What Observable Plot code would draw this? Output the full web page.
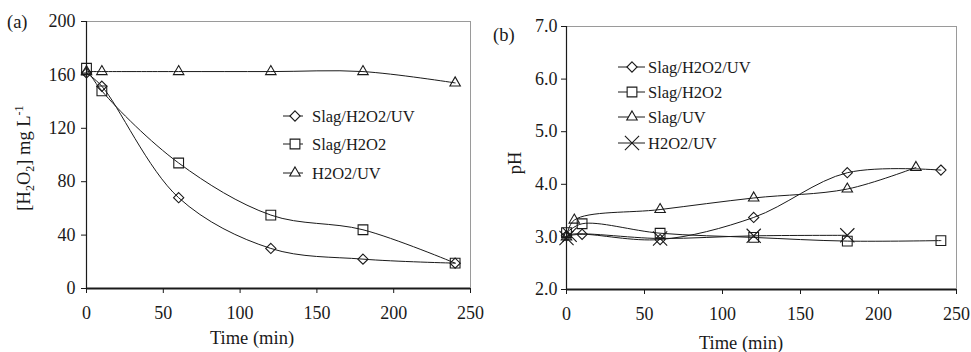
<!DOCTYPE html>
<html>
<head>
<meta charset="utf-8">
<script src="https://cdn.jsdelivr.net/npm/d3@7"></script>
<script src="https://cdn.jsdelivr.net/npm/@observablehq/plot@0.6"></script>
<style>
  html, body { margin: 0; padding: 0; background: #fff; }
  #wrap { display: flex; width: 971px; height: 352px; overflow: hidden; }
  #wrap svg { display: block; }
</style>
</head>
<body>
<div id="wrap"><div id="pa"></div><div id="pb"></div></div>
<script>
// ---------- data ----------
const xTicks = [0, 50, 100, 150, 200, 250];
const xDomain = [0, 250];

// Panel (a): H2O2 concentration (mg/L)
const aTimes = [0, 10, 60, 120, 180, 240];
const aSlagH2O2UV = [161.5, 151.5, 68, 30, 22, 19];
const aSlagH2O2 = [165, 148, 94, 55, 44, 19];
const aH2O2UV = [162.5, 162.5, 162.5, 162.5, 162.5, 154];
const aYTicks = [0, 40, 80, 120, 160, 200];
const aYDomain = [0, 200];
const aNames = ["Slag/H2O2/UV", "Slag/H2O2", "H2O2/UV"];

// Panel (b): pH
const bTimesSlagH2O2UV = [0, 10, 60, 120, 180, 240];
const bSlagH2O2UV = [3.02, 3.05, 2.95, 3.37, 4.22, 4.27];
const bTimesSlagH2O2 = [0, 10, 60, 120, 180, 240];
const bSlagH2O2 = [3.08, 3.25, 3.07, 2.99, 2.92, 2.93];
const bTimesSlagUV = [0, 5, 60, 120, 180, 224];
const bSlagUV = [3.0, 3.32, 3.52, 3.74, 3.91, 4.32];
const bTimesH2O2UV = [0, 2, 60, 120, 180];
const bH2O2UV = [2.98, 3.04, 2.97, 3.02, 3.03];
const bYTicks = [2, 3, 4, 5, 6, 7];
const bYDomain = [2, 7];
const bNames = ["Slag/H2O2/UV", "Slag/H2O2", "Slag/UV", "H2O2/UV"];

// ---------- styles ----------
const FONT = "Liberation Serif, Times New Roman, serif";
const INK = "#1a1a1a";
const symStyle = {
  diamond: {symbol: "diamond2", r: 4.6},
  square: {symbol: "square2", r: 6.2},
  triangle: {symbol: "triangle2", r: 5},
  times: {symbol: "times", r: 6.5}
};

function toRows(times, vals) { return times.map((t, i) => ({t, v: vals[i]})); }

function seriesMarks(rows, sym) {
  const s = symStyle[sym];
  return [
    Plot.line(rows, {x: "t", y: "v", curve: "catmull-rom", stroke: INK, strokeWidth: 1}),
    Plot.dot(rows, {x: "t", y: "v", symbol: s.symbol, r: s.r, stroke: INK, strokeWidth: 1.1, fill: "none"})
  ];
}

function frameMarks(xd, yd, ytks, yfmt, yPad) {
  return [
    Plot.ruleY([yd[1]], {stroke: "#9a9a9a", strokeWidth: 1}),
    Plot.ruleX([xd[1]], {stroke: "#9a9a9a", strokeWidth: 1}),
    Plot.axisX(xTicks, {tickSize: 5, tickPadding: 13, label: null, stroke: INK, fill: INK, fontSize: 18}),
    Plot.axisY(ytks, {tickSize: 5, tickPadding: yPad, label: null, tickFormat: yfmt, stroke: INK, fill: INK, fontSize: 18}),
    Plot.ruleX([xd[0]], {stroke: INK, strokeWidth: 1.2}),
    Plot.ruleY([yd[0]], {stroke: INK, strokeWidth: 2})
  ];
}

function addLegend(svg, items, x0, x1, xm, xt, rows) {
  const g = d3.select(svg).append("g").attr("font-family", FONT).attr("font-size", 16.5)
    .attr("fill", INK).attr("text-anchor", "start");
  items.forEach((it, i) => {
    const y = rows[i];
    g.append("line").attr("x1", x0).attr("x2", x1).attr("y1", y).attr("y2", y)
      .attr("stroke", INK).attr("stroke-width", 1);
    const s = symStyle[it.sym];
    const sizeArea = s.r * s.r * Math.PI;
    const symMap = {diamond2: d3.symbolDiamond2, square2: d3.symbolSquare2, triangle2: d3.symbolTriangle2, times: d3.symbolTimes};
    g.append("path").attr("d", d3.symbol(symMap[s.symbol], sizeArea)())
      .attr("transform", `translate(${xm},${y})`)
      .attr("fill", "white").attr("stroke", INK).attr("stroke-width", 1.1);
    g.append("text").attr("x", xt).attr("y", y).attr("dy", "0.35em").attr("text-anchor", "start").text(it.name);
  });
}

// ---------- panel (a) ----------
const plotA = Plot.plot({
  width: 490, height: 352,
  marginLeft: 86, marginRight: 20, marginTop: 21, marginBottom: 64,
  style: {fontFamily: FONT, fontSize: "18px", color: INK, background: "white", overflow: "visible"},
  x: {domain: xDomain},
  y: {domain: aYDomain},
  marks: [
    ...frameMarks(xDomain, aYDomain, aYTicks, d => String(d), 6),
    ...seriesMarks(toRows(aTimes, aSlagH2O2UV), "diamond"),
    ...seriesMarks(toRows(aTimes, aSlagH2O2), "square"),
    ...seriesMarks(toRows(aTimes, aH2O2UV), "triangle")
  ]
});
document.getElementById("pa").appendChild(plotA);
{
  const svg = d3.select(plotA);
  svg.append("text").attr("x", 7).attr("y", 22).attr("dy", "0.35em").attr("text-anchor", "start")
    .attr("font-family", FONT).attr("font-size", 18.5).attr("fill", INK).text("(a)");
  svg.append("text").attr("x", 252).attr("y", 338).attr("dy", "0.35em").attr("text-anchor", "middle")
    .attr("font-family", FONT).attr("font-size", 18.5).attr("fill", INK).text("Time (min)");
  const yl = svg.append("text").attr("transform", "translate(30,158) rotate(-90)")
    .attr("text-anchor", "middle").attr("font-family", FONT).attr("font-size", 18.5).attr("fill", INK);
  yl.append("tspan").text("[H");
  yl.append("tspan").attr("font-size", 12).attr("dy", 4).text("2");
  yl.append("tspan").attr("dy", -4).text("O");
  yl.append("tspan").attr("font-size", 12).attr("dy", 4).text("2");
  yl.append("tspan").attr("dy", -4).text("] mg L");
  yl.append("tspan").attr("font-size", 12).attr("dy", -7).text("-1");
  addLegend(plotA, [
    {name: aNames[0], sym: "diamond"},
    {name: aNames[1], sym: "square"},
    {name: aNames[2], sym: "triangle"}
  ], 283, 303, 295, 312, [116, 144, 173]);
}

// ---------- panel (b) ----------
const plotB = Plot.plot({
  width: 481, height: 352,
  marginLeft: 76, marginRight: 15, marginTop: 26, marginBottom: 63,
  style: {fontFamily: FONT, fontSize: "18px", color: INK, background: "white", overflow: "visible"},
  x: {domain: xDomain},
  y: {domain: bYDomain},
  marks: [
    ...frameMarks(xDomain, bYDomain, bYTicks, d => d.toFixed(1), 4),
    ...seriesMarks(toRows(bTimesSlagH2O2UV, bSlagH2O2UV), "diamond"),
    ...seriesMarks(toRows(bTimesSlagH2O2, bSlagH2O2), "square"),
    ...seriesMarks(toRows(bTimesSlagUV, bSlagUV), "triangle"),
    ...seriesMarks(toRows(bTimesH2O2UV, bH2O2UV), "times")
  ]
});
document.getElementById("pb").appendChild(plotB);
{
  const svg = d3.select(plotB);
  svg.append("text").attr("x", 3).attr("y", 35).attr("dy", "0.35em").attr("text-anchor", "start")
    .attr("font-family", FONT).attr("font-size", 18.5).attr("fill", INK).text("(b)");
  svg.append("text").attr("x", 251).attr("y", 343).attr("dy", "0.35em").attr("text-anchor", "middle")
    .attr("font-family", FONT).attr("font-size", 18.5).attr("fill", INK).text("Time (min)");
  svg.append("text").attr("transform", "translate(25,163) rotate(-90)").attr("dy", "0.35em")
    .attr("text-anchor", "middle").attr("font-family", FONT).attr("font-size", 18.5).attr("fill", INK).text("pH");
  addLegend(plotB, [
    {name: bNames[0], sym: "diamond"},
    {name: bNames[1], sym: "square"},
    {name: bNames[2], sym: "triangle"},
    {name: bNames[3], sym: "times"}
  ], 128, 155, 142, 158, [67, 92, 117, 143]);
}
</script>
</body>
</html>
